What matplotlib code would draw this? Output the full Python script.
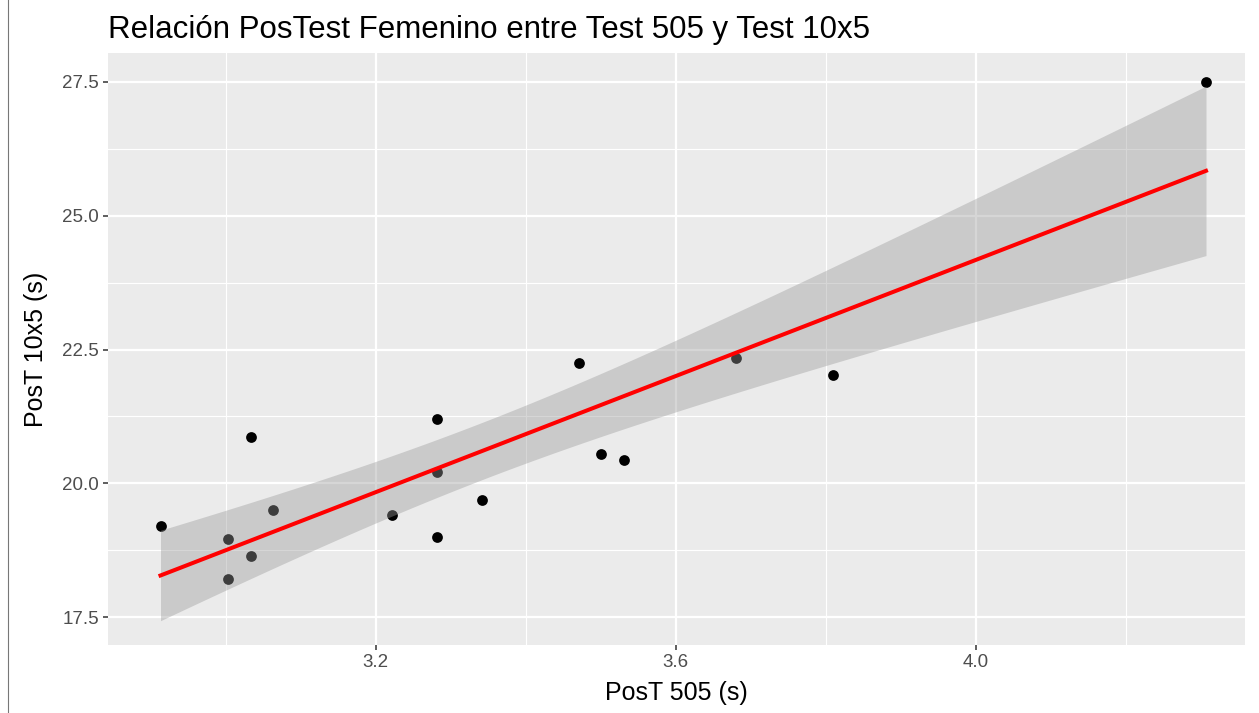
import numpy as np
import matplotlib
matplotlib.use("Agg")
import matplotlib.pyplot as plt
from matplotlib.lines import Line2D

# Femenino, PosTest values
post_505 = [2.913, 3.003, 3.003, 3.033, 3.033, 3.063, 3.222, 3.281, 3.281,
            3.281, 3.341, 3.471, 3.50, 3.531, 3.68, 3.81, 4.307]
post_10x5 = [19.20, 18.96, 18.21, 20.86, 18.64, 19.50, 19.40, 21.21, 20.22,
             18.99, 19.68, 22.24, 20.54, 20.43, 22.35, 22.03, 27.50]

x_ticks = [3.2, 3.6, 4.0]
y_ticks = [17.5, 20.0, 22.5, 25.0, 27.5]

plt.rcParams['font.family'] = ['Liberation Sans', 'DejaVu Sans']


def linear_fit_ci(x, y, xs, t_crit=2.131):
    '''lm fit with 95% confidence band, like geom_smooth(method="lm")'''
    x = np.asarray(x)
    y = np.asarray(y)
    n = len(x)
    b1, b0 = np.polyfit(x, y, 1)
    resid = y - (b0 + b1 * x)
    s = np.sqrt(np.sum(resid ** 2) / (n - 2))
    sxx = np.sum((x - x.mean()) ** 2)
    fit = b0 + b1 * xs
    se = s * np.sqrt(1 / n + (xs - x.mean()) ** 2 / sxx)
    return fit, fit - t_crit * se, fit + t_crit * se


def main():
    fig = plt.figure(figsize=(12.59, 7.13), dpi=100)
    ax = fig.add_axes([108 / 1259, 68 / 713, 1137 / 1259, 592 / 713])
    ax.set_facecolor("#EBEBEB")

    xs = np.linspace(min(post_505), max(post_505), 80)
    fit, lo, hi = linear_fit_ci(post_505, post_10x5, xs)

    ax.scatter(post_505, post_10x5, s=60, color="black", zorder=3,
               linewidths=0)
    ax.fill_between(xs, lo, hi, color="#999999", alpha=0.4, linewidth=0,
                    zorder=4)
    ax.plot(xs, fit, color="red", lw=2.9, zorder=5)

    ax.set_xlim(2.843, 4.359)
    ax.set_ylim(16.98, 28.04)
    ax.set_xticks(x_ticks)
    ax.set_xticklabels([f"{v:.1f}" for v in x_ticks])
    ax.set_yticks(y_ticks)
    ax.set_yticklabels([f"{v:.1f}" for v in y_ticks])
    ax.set_xticks([3.0, 3.4, 3.8, 4.2], minor=True)
    ax.set_yticks([18.75, 21.25, 23.75, 26.25], minor=True)

    ax.grid(which="major", color="white", lw=1.6)
    ax.grid(which="minor", color="white", lw=0.8)
    ax.set_axisbelow(True)
    for sp in ax.spines.values():
        sp.set_visible(False)

    ax.tick_params(which="major", length=3.5, width=1.1, color="#333333",
                   labelsize=13.5, labelcolor="#4D4D4D", pad=3)
    ax.tick_params(which="minor", length=0)

    ax.set_xlabel("PosT 505 (s)", fontsize=18, color="black", labelpad=7)
    ax.set_ylabel("PosT 10x5 (s)", fontsize=18, color="black", labelpad=10)
    ax.set_title("Relación PosTest Femenino entre Test 505 y Test 10x5",
                 fontsize=22.5, loc="left", pad=11)

    # thin border line at the left edge of the screenshot
    fig.add_artist(Line2D([8 / 1259, 8 / 1259], [0, 1], color="#777777",
                          lw=0.8))

    fig.savefig("out.png", dpi=100)


if __name__ == "__main__":
    main()
